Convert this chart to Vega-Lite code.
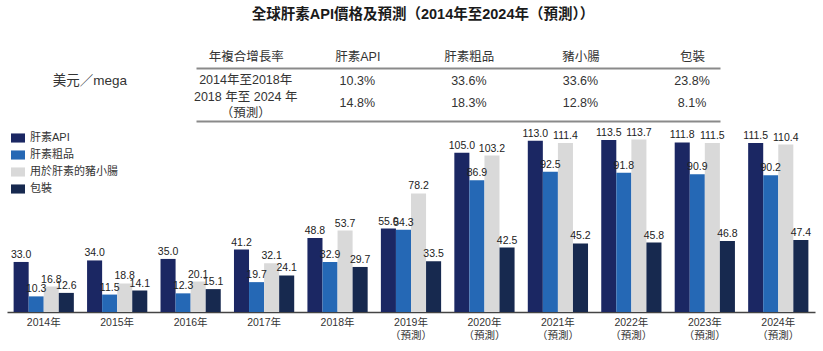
{
  "$schema": "https://vega.github.io/schema/vega-lite/v6.json",
  "background": "white",
  "padding": {"left": 7, "top": 6, "right": 4, "bottom": 4},
  "title": {"text": "全球肝素API價格及預測（2014年至2024年（預測））", "fontSize": 14.5, "fontWeight": "bold", "color": "#1a1a1a", "anchor": "middle", "offset": 28, "dx": 12},
  "datasets": {
    "unit": [
      {"period": "2014年至2018年", "unit": "美元／mega"}
    ],
    "cagr": [
      {"period": "2014年至2018年", "product": "肝素API", "cagr": "10.3%"},
      {"period": "2014年至2018年", "product": "肝素粗品", "cagr": "33.6%"},
      {"period": "2014年至2018年", "product": "豬小腸", "cagr": "33.6%"},
      {"period": "2014年至2018年", "product": "包裝", "cagr": "23.8%"},
      {"period": "2018 年至 2024 年\n（預測）", "product": "肝素API", "cagr": "14.8%"},
      {"period": "2018 年至 2024 年\n（預測）", "product": "肝素粗品", "cagr": "18.3%"},
      {"period": "2018 年至 2024 年\n（預測）", "product": "豬小腸", "cagr": "12.8%"},
      {"period": "2018 年至 2024 年\n（預測）", "product": "包裝", "cagr": "8.1%"}
    ],
    "periods": [
      {"period": "2014年至2018年", "header": "年複合增長率"},
      {"period": "2018 年至 2024 年\n（預測）", "header": "年複合增長率"}
    ],
    "prices": [
      {"year": "2014年", "series": "肝素API", "value": 33.0},
      {"year": "2014年", "series": "肝素粗品", "value": 10.3},
      {"year": "2014年", "series": "用於肝素的豬小腸", "value": 16.8},
      {"year": "2014年", "series": "包裝", "value": 12.6},
      {"year": "2015年", "series": "肝素API", "value": 34.0},
      {"year": "2015年", "series": "肝素粗品", "value": 11.5},
      {"year": "2015年", "series": "用於肝素的豬小腸", "value": 18.8},
      {"year": "2015年", "series": "包裝", "value": 14.1},
      {"year": "2016年", "series": "肝素API", "value": 35.0},
      {"year": "2016年", "series": "肝素粗品", "value": 12.3},
      {"year": "2016年", "series": "用於肝素的豬小腸", "value": 20.1},
      {"year": "2016年", "series": "包裝", "value": 15.1},
      {"year": "2017年", "series": "肝素API", "value": 41.2},
      {"year": "2017年", "series": "肝素粗品", "value": 19.7},
      {"year": "2017年", "series": "用於肝素的豬小腸", "value": 32.1},
      {"year": "2017年", "series": "包裝", "value": 24.1},
      {"year": "2018年", "series": "肝素API", "value": 48.8},
      {"year": "2018年", "series": "肝素粗品", "value": 32.9},
      {"year": "2018年", "series": "用於肝素的豬小腸", "value": 53.7},
      {"year": "2018年", "series": "包裝", "value": 29.7},
      {"year": "2019年\n（預測）", "series": "肝素API", "value": 55.0},
      {"year": "2019年\n（預測）", "series": "肝素粗品", "value": 54.3},
      {"year": "2019年\n（預測）", "series": "用於肝素的豬小腸", "value": 78.2},
      {"year": "2019年\n（預測）", "series": "包裝", "value": 33.5},
      {"year": "2020年\n（預測）", "series": "肝素API", "value": 105.0},
      {"year": "2020年\n（預測）", "series": "肝素粗品", "value": 86.9},
      {"year": "2020年\n（預測）", "series": "用於肝素的豬小腸", "value": 103.2},
      {"year": "2020年\n（預測）", "series": "包裝", "value": 42.5},
      {"year": "2021年\n（預測）", "series": "肝素API", "value": 113.0},
      {"year": "2021年\n（預測）", "series": "肝素粗品", "value": 92.5},
      {"year": "2021年\n（預測）", "series": "用於肝素的豬小腸", "value": 111.4},
      {"year": "2021年\n（預測）", "series": "包裝", "value": 45.2},
      {"year": "2022年\n（預測）", "series": "肝素API", "value": 113.5},
      {"year": "2022年\n（預測）", "series": "肝素粗品", "value": 91.8},
      {"year": "2022年\n（預測）", "series": "用於肝素的豬小腸", "value": 113.7},
      {"year": "2022年\n（預測）", "series": "包裝", "value": 45.8},
      {"year": "2023年\n（預測）", "series": "肝素API", "value": 111.8},
      {"year": "2023年\n（預測）", "series": "肝素粗品", "value": 90.9},
      {"year": "2023年\n（預測）", "series": "用於肝素的豬小腸", "value": 111.5},
      {"year": "2023年\n（預測）", "series": "包裝", "value": 46.8},
      {"year": "2024年\n（預測）", "series": "肝素API", "value": 111.5},
      {"year": "2024年\n（預測）", "series": "肝素粗品", "value": 90.2},
      {"year": "2024年\n（預測）", "series": "用於肝素的豬小腸", "value": 110.4},
      {"year": "2024年\n（預測）", "series": "包裝", "value": 47.4}
    ]
  },
  "vconcat": [
    {
      "hconcat": [
        {
          "width": 166,
          "height": 53,
          "data": {"name": "unit"},
          "mark": {"type": "text", "fontSize": 13.5, "color": "#333", "baseline": "middle"},
          "encoding": {
            "y": {"field": "period", "type": "nominal",
              "scale": {"type": "point", "domain": ["2014年至2018年", "2018 年至 2024 年\n（預測）"], "padding": 0.7326, "align": 0.413, "round": false},
              "axis": null},
            "text": {"field": "unit"}
          }
        },
        {
          "width": 524,
          "height": 53,
          "layer": [
            {
              "data": {"name": "cagr"},
              "mark": {"type": "text", "fontSize": 12.5, "color": "#333", "baseline": "middle"},
              "encoding": {
                "x": {"field": "product", "type": "nominal",
                  "scale": {"type": "point", "domain": ["年複合增長率", "肝素API", "肝素粗品", "豬小腸", "包裝"], "padding": 0.348, "align": 0.64},
                  "axis": {"orient": "top", "title": null, "ticks": false, "labelAngle": 0, "labelFontSize": 12.5, "labelColor": "#333", "labelPadding": 5, "domainColor": "#8a8a8a", "domainWidth": 2}},
                "y": {"field": "period", "type": "nominal",
                  "scale": {"type": "point", "domain": ["2014年至2018年", "2018 年至 2024 年\n（預測）"], "padding": 0.7326, "align": 0.413, "round": false},
                  "axis": null},
                "text": {"field": "cagr"}
              }
            },
            {
              "data": {"name": "periods"},
              "mark": {"type": "text", "fontSize": 12.5, "color": "#333", "baseline": "middle", "lineBreak": "\n", "lineHeight": 16},
              "encoding": {
                "x": {"field": "header", "type": "nominal",
                  "scale": {"type": "point", "domain": ["年複合增長率", "肝素API", "肝素粗品", "豬小腸", "包裝"], "padding": 0.348, "align": 0.64},
                  "axis": {"orient": "bottom", "title": null, "labels": false, "ticks": false, "domainColor": "#8a8a8a", "domainWidth": 2}},
                "y": {"field": "period", "type": "nominal",
                  "scale": {"type": "point", "domain": ["2014年至2018年", "2018 年至 2024 年\n（預測）"], "padding": 1.393, "align": 0.333, "round": false},
                  "axis": null},
                "text": {"field": "period"}
              }
            }
          ],
          "resolve": {"axis": {"x": "independent"}, "scale": {"y": "independent"}}
        }
      ],
      "spacing": 20
    },
    {
      "width": 808,
      "height": 185,
      "data": {"name": "prices"},
      "encoding": {
        "x": {"field": "year", "type": "nominal", "sort": null,
          "scale": {"paddingInner": 0.18, "paddingOuter": 0.09},
          "axis": {"title": null, "ticks": false, "labelAngle": 0, "labelFontSize": 10.5, "labelColor": "#333", "labelPadding": 5, "labelExpr": "split(datum.value, '\\n')", "labelLineHeight": 13, "domainColor": "#444", "domainWidth": 1.5}},
        "xOffset": {"field": "series", "type": "nominal", "sort": ["肝素API", "肝素粗品", "用於肝素的豬小腸", "包裝"]},
        "y": {"field": "value", "type": "quantitative", "scale": {"domain": [0, 122]}, "axis": null}
      },
      "layer": [
        {
          "mark": {"type": "bar"},
          "encoding": {
            "color": {"field": "series", "type": "nominal",
              "scale": {"domain": ["肝素API", "肝素粗品", "用於肝素的豬小腸", "包裝"], "range": ["#1b2763", "#2568b5", "#d9d9d9", "#17294f"]},
              "legend": {"title": null, "orient": "top-left", "offset": 4, "padding": 0, "symbolType": "M-1,-0.65L1,-0.65L1,0.65L-1,0.65Z", "symbolSize": 196, "symbolStrokeWidth": 0, "labelFontSize": 11, "labelColor": "#333", "labelOffset": 5, "rowPadding": 5}}
          }
        },
        {
          "mark": {"type": "text", "baseline": "bottom", "dy": -2, "fontSize": 10.5, "color": "#222"},
          "encoding": {"text": {"field": "value", "type": "quantitative", "format": ".1f"}}
        }
      ]
    }
  ],
  "spacing": 6,
  "resolve": {"scale": {"color": "independent"}, "legend": {"color": "independent"}},
  "config": {
    "font": "Liberation Sans, Noto Sans CJK TC",
    "view": {"stroke": null}
  }
}
